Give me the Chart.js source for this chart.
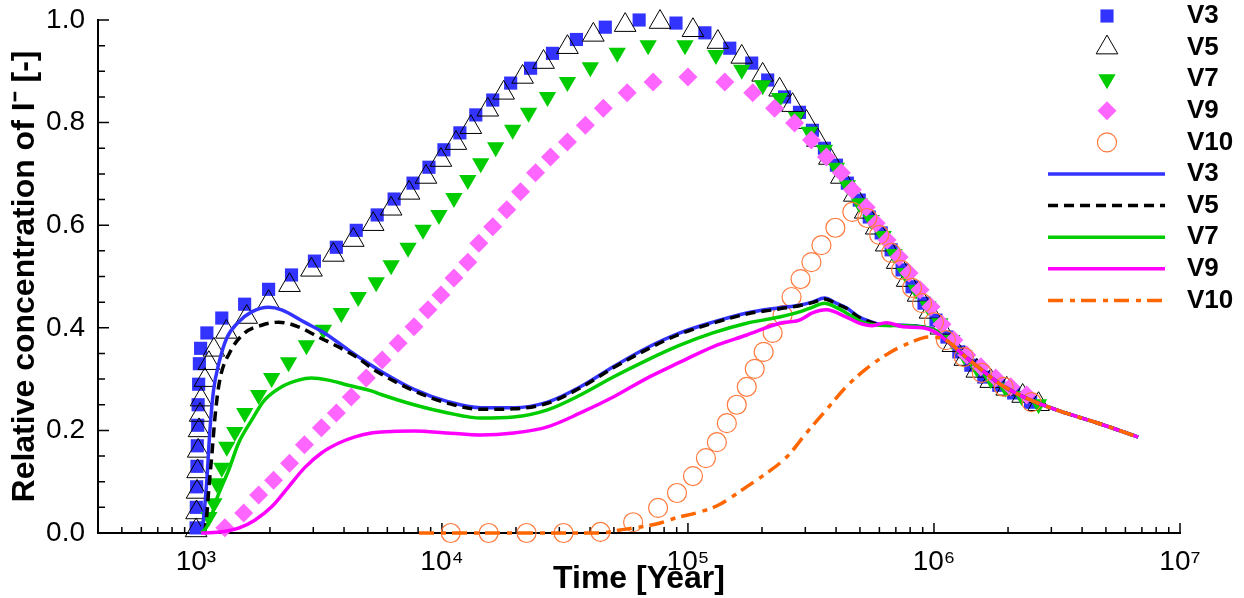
<!DOCTYPE html>
<html lang="en">
<head>
<meta charset="UTF-8">
<title>Relative concentration of I-</title>
<script src="https://cdn.jsdelivr.net/npm/chart.js"></script>
<style>
  body { margin: 0; background: #fff; }
  #grafico { display: block; }
</style>
</head>
<body>
<canvas id="grafico" width="1244" height="598"></canvas>
<script>
// symbols (time in years, relative concentration)
const v3SymT = [1002, 1004, 1007, 1010, 1013, 1017, 1021, 1026, 1033, 1045, 1108, 1274, 1578, 1975, 2447, 3032, 3723, 4485, 5455, 6393, 7630, 8858, 10190, 11830, 13730, 16090, 19030, 22930, 28140, 35210, 46130, 63330, 89410, 117200, 147900, 181600, 210900, 247000, 284000, 320600, 358700, 401200, 444500, 497000, 545700, 610200, 669700, 742000, 814500, 910900, 1019000, 1129000, 1262000, 1412000, 1594000, 1834000, 2108000, 2470000]
const v3SymC = [0.01, 0.05, 0.09, 0.13, 0.17, 0.21, 0.25, 0.29, 0.33, 0.36, 0.39, 0.419, 0.446, 0.475, 0.503, 0.53, 0.557, 0.59, 0.62, 0.651, 0.682, 0.713, 0.747, 0.78, 0.815, 0.844, 0.877, 0.906, 0.935, 0.962, 0.986, 1.0, 0.994, 0.975, 0.945, 0.916, 0.883, 0.85, 0.82, 0.785, 0.75, 0.717, 0.682, 0.649, 0.616, 0.585, 0.552, 0.513, 0.48, 0.448, 0.415, 0.382, 0.353, 0.327, 0.304, 0.288, 0.273, 0.255]

const v5SymT = [1002, 1006, 1011, 1016, 1022, 1030, 1040, 1050, 1088, 1129, 1183, 1330, 1609, 1975, 2402, 2949, 3621, 4362, 5255, 6216, 7352, 8612, 9908, 11400, 13110, 15360, 17820, 21280, 25880, 32370, 41250, 55570, 77000, 104800, 132300, 165400, 201200, 235800, 266200, 303300, 336000, 375700, 420200, 474500, 525500, 582400, 639300, 708500, 777700, 861500, 963400, 1067000, 1194000, 1335000, 1493000, 1701000, 1975000, 2293000, 2661000]
const v5SymC = [0.005, 0.04, 0.08, 0.12, 0.16, 0.2, 0.23, 0.26, 0.298, 0.331, 0.357, 0.392, 0.421, 0.45, 0.483, 0.513, 0.542, 0.571, 0.602, 0.632, 0.663, 0.694, 0.727, 0.76, 0.791, 0.825, 0.858, 0.889, 0.918, 0.947, 0.971, 0.99, 0.996, 0.98, 0.957, 0.928, 0.893, 0.864, 0.834, 0.801, 0.766, 0.731, 0.694, 0.659, 0.626, 0.595, 0.562, 0.528, 0.493, 0.464, 0.431, 0.4, 0.366, 0.339, 0.316, 0.296, 0.281, 0.267, 0.251]

const v7SymT = [1129, 1183, 1216, 1274, 1335, 1439, 1579, 1799, 2032, 2380, 2814, 3298, 3900, 4569, 5405, 6216, 7283, 8378, 9725, 11190, 12740, 14380, 16540, 19390, 22500, 26860, 32370, 40110, 51590, 68880, 97250, 129900, 165400, 201200, 235800, 276300, 311900, 358700, 401200, 444500, 497000, 555700, 621500, 688700, 762900, 845600, 945600, 1057000, 1183000, 1323000, 1493000, 1701000, 1956000, 2271000, 2661000]
const v7SymC = [0.031, 0.058, 0.097, 0.127, 0.168, 0.197, 0.234, 0.269, 0.302, 0.333, 0.366, 0.396, 0.429, 0.46, 0.489, 0.522, 0.556, 0.591, 0.62, 0.653, 0.688, 0.721, 0.752, 0.786, 0.819, 0.85, 0.879, 0.908, 0.936, 0.951, 0.951, 0.932, 0.903, 0.873, 0.848, 0.811, 0.782, 0.747, 0.712, 0.678, 0.643, 0.61, 0.579, 0.544, 0.507, 0.474, 0.442, 0.409, 0.376, 0.347, 0.322, 0.3, 0.283, 0.267, 0.251]

const v9SymT = [1311, 1564, 1799, 2069, 2402, 2762, 3237, 3723, 4281, 4924, 5717, 6636, 7702, 8775, 9908, 11190, 12740, 14120, 16090, 18340, 20880, 24020, 27620, 32370, 38280, 45280, 56620, 72170, 100000, 141200, 183400, 225000, 271200, 317700, 365400, 420200, 465600, 530400, 582400, 645200, 721600, 792000, 877700, 972500, 1078000, 1205000, 1360000, 1550000, 1782000, 2050000, 2380000]
const v9SymC = [0.01, 0.039, 0.074, 0.103, 0.136, 0.172, 0.205, 0.234, 0.265, 0.302, 0.337, 0.37, 0.402, 0.435, 0.464, 0.497, 0.528, 0.565, 0.597, 0.63, 0.665, 0.702, 0.733, 0.762, 0.795, 0.828, 0.858, 0.879, 0.889, 0.879, 0.858, 0.828, 0.799, 0.766, 0.733, 0.702, 0.669, 0.635, 0.604, 0.571, 0.538, 0.507, 0.474, 0.441, 0.407, 0.376, 0.347, 0.324, 0.302, 0.285, 0.269]

const v10SymT = [10860, 15490, 22080, 31190, 44050, 59860, 75610, 90260, 104800, 118300, 131100, 143900, 157900, 173400, 186800, 203100, 220900, 242400, 263700, 286800, 317700, 348800, 397400, 465600, 535400, 598800, 669700, 735200, 814500, 894300, 1000000, 1118000, 1323000, 1564000, 1920000, 2493000]
const v10SymC = [0, 0, 0, 0, 0.002, 0.021, 0.049, 0.078, 0.111, 0.146, 0.177, 0.214, 0.25, 0.285, 0.32, 0.353, 0.39, 0.425, 0.46, 0.495, 0.528, 0.561, 0.595, 0.626, 0.614, 0.581, 0.546, 0.513, 0.478, 0.448, 0.411, 0.376, 0.343, 0.312, 0.285, 0.255]

// lines
const v3LinT = [1060, 1090, 1108, 1140, 1180, 1240, 1335, 1490, 1685, 1975, 2230, 2760, 3330, 4160, 5160, 5660, 7700, 10580, 14380, 19560, 26860, 36540, 49700, 68230, 92800, 126200, 173400, 235800, 284000, 320000, 358700, 400000, 440300, 497000, 561100, 598800, 750000, 1000000, 1118000, 1348000, 1564000, 1834000, 2148000, 2588000, 3423000, 4656000, 6761000]
const v3LinC = [0, 0.06, 0.103, 0.2, 0.279, 0.331, 0.38, 0.411, 0.431, 0.44, 0.435, 0.411, 0.39, 0.357, 0.327, 0.315, 0.28, 0.256, 0.244, 0.244, 0.255, 0.285, 0.324, 0.361, 0.39, 0.411, 0.429, 0.439, 0.444, 0.45, 0.458, 0.448, 0.439, 0.421, 0.411, 0.407, 0.405, 0.396, 0.376, 0.343, 0.318, 0.292, 0.273, 0.255, 0.234, 0.214, 0.187]

const v5LinT = [1085, 1105, 1130, 1160, 1200, 1250, 1370, 1580, 1850, 2170, 2610, 3150, 3790, 4570, 5160, 5660, 7700, 10580, 14380, 19560, 26860, 36540, 49700, 68230, 92800, 126200, 173400, 235800, 284000, 320000, 358700, 400000, 440300, 497000, 561100, 598800, 750000, 1000000, 1118000, 1348000, 1564000, 1834000, 2148000, 2588000, 3423000, 4656000, 6761000]
const v5LinC = [0, 0.03, 0.09, 0.15, 0.234, 0.298, 0.351, 0.39, 0.405, 0.411, 0.402, 0.382, 0.363, 0.341, 0.322, 0.31, 0.277, 0.253, 0.241, 0.242, 0.253, 0.283, 0.322, 0.358, 0.388, 0.409, 0.427, 0.437, 0.443, 0.449, 0.456, 0.447, 0.438, 0.42, 0.41, 0.406, 0.404, 0.396, 0.376, 0.343, 0.318, 0.292, 0.273, 0.255, 0.234, 0.214, 0.187]

const v7LinT = [1050, 1100, 1160, 1210, 1360, 1490, 1685, 1900, 2230, 2610, 2950, 3455, 4160, 5160, 5660, 7700, 10580, 14380, 19560, 26860, 36540, 49700, 68230, 92800, 126200, 173400, 235800, 284000, 320000, 358700, 400000, 440300, 510900, 598800, 750000, 1000000, 1118000, 1348000, 1564000, 1834000, 2148000, 2588000, 3423000, 4656000, 6761000]
const v7LinC = [0, 0.01, 0.035, 0.064, 0.123, 0.175, 0.22, 0.259, 0.285, 0.298, 0.302, 0.298, 0.288, 0.277, 0.27, 0.25, 0.234, 0.224, 0.226, 0.24, 0.269, 0.304, 0.337, 0.366, 0.39, 0.409, 0.421, 0.431, 0.44, 0.448, 0.44, 0.429, 0.411, 0.405, 0.404, 0.396, 0.376, 0.343, 0.318, 0.292, 0.273, 0.255, 0.234, 0.214, 0.187]

const v9LinT = [1050, 1300, 1500, 1734, 2032, 2380, 2762, 3237, 3793, 4401, 5160, 5660, 7700, 10580, 14380, 19560, 26860, 36540, 49700, 68230, 92800, 126200, 173400, 235800, 284000, 320600, 365000, 440300, 497000, 561100, 640000, 750000, 900000, 1000000, 1118000, 1348000, 1564000, 1834000, 2148000, 2588000, 3423000, 4656000, 6761000]
const v9LinC = [0, 0.003, 0.01, 0.025, 0.051, 0.09, 0.127, 0.156, 0.175, 0.187, 0.195, 0.197, 0.199, 0.195, 0.191, 0.195, 0.207, 0.234, 0.265, 0.302, 0.333, 0.363, 0.386, 0.409, 0.415, 0.429, 0.435, 0.421, 0.409, 0.404, 0.41, 0.402, 0.4, 0.393, 0.376, 0.343, 0.318, 0.292, 0.273, 0.255, 0.234, 0.214, 0.187]

const v10LinT = [8070, 20000, 44000, 53000, 72000, 79000, 90000, 110000, 135000, 173000, 209000, 252000, 303000, 365000, 440000, 530000, 657000, 792000, 955000, 1118000, 1348000, 1564000, 1834000, 2148000, 2588000, 3423000, 4656000, 6761000]
const v10LinC = [0, 0, 0, 0.006, 0.016, 0.021, 0.03, 0.04, 0.056, 0.09, 0.117, 0.148, 0.195, 0.24, 0.285, 0.32, 0.351, 0.37, 0.382, 0.376, 0.343, 0.318, 0.292, 0.273, 0.255, 0.234, 0.214, 0.187]

const xTickValues = [1e3, 1e4, 1e5, 1e6, 1e7]
const xTickLabels = ['10³', '10⁴', '10⁵', '10⁶', '10⁷']
const yTickValues = [0, 0.2, 0.4, 0.6, 0.8, 1.0]

function pontos(tempos, valores) {
  return tempos.map((t, i) => ({ x: t, y: valores[i] }))
}

const simbolo = (label, t, c, estilo, ordem) => Object.assign({
  label: label,
  data: pontos(t, c),
  showLine: false,
  clip: false,
  pointBorderWidth: 0,
  order: ordem
}, estilo)

const linha = (label, t, c, cor, dash, ordem) => ({
  label: label,
  data: pontos(t, c),
  showLine: true,
  clip: false,
  borderColor: cor,
  borderWidth: 3.5,
  borderDash: dash,
  pointRadius: 0,
  cubicInterpolationMode: 'monotone',
  fill: false,
  order: ordem
})

const datasets = [
  simbolo('V3', v3SymT, v3SymC, { pointStyle: 'rect', pointRadius: 9.3, pointBackgroundColor: '#3333ff' }, 10),
  simbolo('V5', v5SymT, v5SymC, { pointStyle: 'triangle', pointRadius: 12.5, pointBackgroundColor: 'rgba(0,0,0,0)', pointBorderColor: '#000', pointBorderWidth: 1 }, 9),
  simbolo('V7', v7SymT, v7SymC, { pointStyle: 'triangle', pointRotation: 180, pointRadius: 10, pointBackgroundColor: '#00cc00' }, 8),
  simbolo('V9', v9SymT, v9SymC, { pointStyle: 'rectRot', pointRadius: 9.5, pointBackgroundColor: '#ff66ff' }, 7),
  simbolo('V10', v10SymT, v10SymC, { pointStyle: 'circle', pointRadius: 9.5, pointBackgroundColor: 'rgba(0,0,0,0)', pointBorderColor: '#ff7a3d', pointBorderWidth: 1.2 }, 6),
  linha('V3', v3LinT, v3LinC, '#3333ff', [], 5),
  linha('V5', v5LinT, v5LinC, '#000000', [10, 6], 4),
  linha('V7', v7LinT, v7LinC, '#00cc00', [], 3),
  linha('V9', v9LinT, v9LinC, '#ff00ff', [], 2),
  linha('V10', v10LinT, v10LinC, '#ff6600', [15, 7, 5, 6], 1)
]

// inward tick marks, like the original plot
const ticksDentro = {
  id: 'ticksDentro',
  beforeDatasetsDraw(chart) {
    const { ctx, chartArea: a, scales: { x, y } } = chart
    ctx.save()
    ctx.strokeStyle = '#000'
    ctx.lineWidth = 1.5
    ctx.beginPath()
    for (let e = 2; e <= 7; e++) {
      for (let m = 1; m <= 9; m++) {
        const v = m * Math.pow(10, e)
        if (v < x.min - 1 || v > x.max + 1) continue
        const px = x.getPixelForValue(v)
        ctx.moveTo(px, a.bottom)
        ctx.lineTo(px, a.bottom - (m === 1 ? 10 : 6))
      }
    }
    for (let i = 0; i <= 20; i++) {
      const py = y.getPixelForValue(i * 0.05)
      ctx.moveTo(a.left, py)
      ctx.lineTo(a.left + (i % 4 === 0 ? 11 : 7), py)
    }
    ctx.stroke()
    ctx.restore()
  }
}

const legendaLateral = {
  id: 'legendaLateral',
  afterDraw(chart) {
    const ctx = chart.ctx
    ctx.save()
    chart.data.datasets.forEach((ds, i) => {
      const yy = 16 + i * 31.6
      if (ds.showLine) {
        ctx.beginPath()
        ctx.strokeStyle = ds.borderColor
        ctx.lineWidth = ds.borderWidth
        ctx.setLineDash(ds.borderDash || [])
        ctx.moveTo(1048, yy)
        ctx.lineTo(1165, yy)
        ctx.stroke()
        ctx.setLineDash([])
      } else {
        ctx.fillStyle = ds.pointBackgroundColor
        ctx.strokeStyle = ds.pointBorderColor || ds.pointBackgroundColor
        ctx.lineWidth = ds.pointBorderWidth
        Chart.helpers.drawPoint(ctx, {
          pointStyle: ds.pointStyle,
          rotation: ds.pointRotation || 0,
          radius: ds.pointRadius,
          borderWidth: ds.pointBorderWidth
        }, 1107, yy)
      }
      ctx.fillStyle = '#000'
      ctx.font = 'bold 26px "Liberation Sans", Arial, sans-serif'
      ctx.textBaseline = 'middle'
      ctx.textAlign = 'left'
      ctx.fillText(ds.label, 1187, yy)
    })
    ctx.restore()
  }
}

const fonte = '"Liberation Sans", Arial, sans-serif'

new Chart(document.getElementById('grafico'), {
  type: 'scatter',
  data: { datasets: datasets },
  options: {
    responsive: false,
    devicePixelRatio: 1,
    animation: false,
    events: [],
    layout: { padding: { top: 20, right: 64, left: 0, bottom: 0 } },
    plugins: {
      legend: { display: false },
      tooltip: { enabled: false }
    },
    scales: {
      x: {
        type: 'logarithmic',
        min: 400,
        max: 1e7,
        afterBuildTicks: s => { s.ticks = xTickValues.map(v => ({ value: v, major: true })) },
        afterFit: s => { s.height = 65 },
        grid: { display: false, drawTicks: false },
        border: { display: true, color: '#000', width: 2 },
        ticks: {
          autoSkip: false,
          maxRotation: 0,
          padding: 12,
          color: '#000',
          font: { family: fonte, size: 28 },
          callback: (v, i) => xTickLabels[i]
        },
        title: {
          display: true,
          text: 'Time [Year]',
          color: '#000',
          font: { family: fonte, size: 32, weight: 'bold' },
          padding: { top: 0, bottom: 0 }
        }
      },
      y: {
        min: 0,
        max: 1,
        afterBuildTicks: s => { s.ticks = yTickValues.map(v => ({ value: v })) },
        afterFit: s => { s.width = 98; s.paddingTop = 0; s.paddingBottom = 0 },
        grid: { display: false, drawTicks: false },
        border: { display: true, color: '#000', width: 2 },
        ticks: {
          padding: 13,
          color: '#000',
          font: { family: fonte, size: 28 },
          callback: v => v.toFixed(1)
        },
        title: {
          display: true,
          text: 'Relative concentration of I⁻ [-]',
          color: '#000',
          font: { family: fonte, size: 32, weight: 'bold' },
          padding: { top: 6, bottom: 0 }
        }
      }
    }
  },
  plugins: [ticksDentro, legendaLateral]
})
</script>
</body>
</html>
